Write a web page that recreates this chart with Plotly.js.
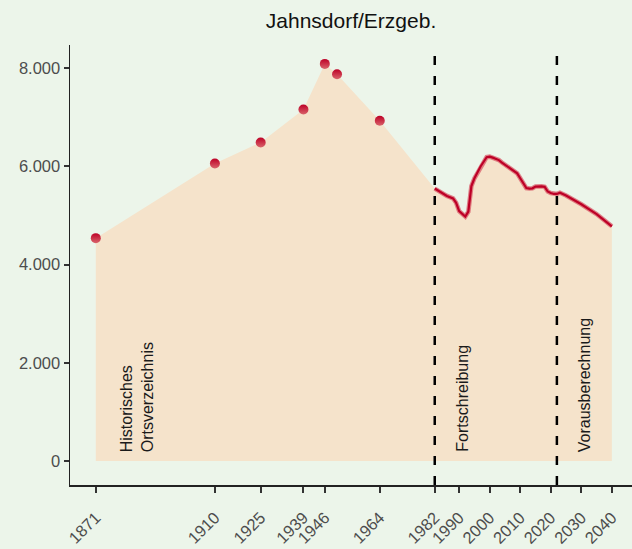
<!DOCTYPE html>
<html>
<head>
<meta charset="utf-8">
<script src="https://cdn.plot.ly/plotly-3.0.1.min.js"></script>
<style>
html,body{margin:0;padding:0;background:#ecf5ea;}
#chart{width:632px;height:549px;}
</style>
</head>
<body>
<div id="chart"></div>
<script>
// Historisches Ortsverzeichnis (points)
const histYears = [1871, 1910, 1925, 1939, 1946, 1950, 1964];
const histValues = [4540, 6060, 6490, 7160, 8090, 7880, 6930];

// Fortschreibung (line)
const fortYears = [1982, 1984, 1986, 1988, 1989, 1990, 1991, 1992, 1993, 1994, 1995, 1997, 1999, 2000, 2001, 2003, 2004, 2006, 2009, 2010, 2011, 2012, 2013, 2014, 2015, 2016, 2017, 2018, 2019, 2020, 2021, 2022];
const fortValues = [5550, 5470, 5400, 5350, 5260, 5090, 5030, 4980, 5080, 5600, 5760, 6000, 6190, 6200, 6180, 6130, 6080, 5990, 5860, 5760, 5650, 5560, 5550, 5555, 5590, 5600, 5595, 5585, 5490, 5460, 5440, 5440];

// Vorausberechnung (line)
const vorYears = [2022, 2023, 2025, 2030, 2035, 2040];
const vorValues = [5440, 5465, 5410, 5230, 5030, 4780];

// period boundaries and labels
const breakYears = [1982, 2022];
const tickYears = [1871, 1910, 1925, 1939, 1946, 1964, 1982, 1990, 2000, 2010, 2020, 2030, 2040];
const yTicks = [0, 2000, 4000, 6000, 8000];
const periodLabels = ["Historisches<br>Ortsverzeichnis", "Fortschreibung", "Vorausberechnung"];
const periodLabelYears = [1884.6, 1991, 2031.3];
const titleText = "Jahnsdorf/Erzgeb.";

const allYears = histYears.concat(fortYears, vorYears.slice(1));
const allValues = histValues.concat(fortValues, vorValues.slice(1));
const lineYears = fortYears.concat(vorYears.slice(1));
const lineValues = fortValues.concat(vorValues.slice(1));

const red = "#bd0026";
const FONT = "Liberation Sans, Arial, sans-serif";

const traces = [
  {x: allYears, y: allValues, type: "scatter", mode: "lines", fill: "tozeroy",
   fillcolor: "#f5e3cb", line: {width: 0, color: "rgba(0,0,0,0)"}, hoverinfo: "skip"},
  {x: lineYears, y: lineValues, type: "scatter", mode: "lines",
   line: {color: "rgba(215,80,95,0.7)", width: 4.5}, hoverinfo: "skip"},
  {x: lineYears, y: lineValues, type: "scatter", mode: "lines",
   line: {color: red, width: 2.2}, hoverinfo: "skip"},
  {x: histYears, y: histValues, type: "scatter", mode: "markers",
   marker: {color: red, size: 10, line: {width: 0},
            gradient: {type: "vertical", color: "#d9646b"}}, hoverinfo: "skip"}
];

const shapes = breakYears.map(yr => ({
  type: "line", xref: "x", yref: "paper", x0: yr, x1: yr, y0: 0, y1: 1,
  line: {color: "#000", width: 2.5, dash: "9px,11px"}
}));

const annotations = periodLabels.map((t, i) => ({
  x: periodLabelYears[i], y: 0, xref: "x", yref: "y",
  text: t, textangle: -90, showarrow: false, align: "left",
  xanchor: "center", yanchor: "bottom", yshift: 7,
  font: {family: FONT, size: 16, color: "#1a1a1a"}
}));

const layout = {
  width: 632, height: 549,
  paper_bgcolor: "#ecf5ea", plot_bgcolor: "#ecf5ea",
  margin: {l: 70, r: 0, t: 45, b: 64},
  showlegend: false,
  separators: ",.",
  font: {family: FONT, size: 16.5, color: "#4d4d4d"},
  title: {text: titleText, x: 0.5, xref: "paper", xanchor: "center", y: 0.963, yref: "container", yanchor: "middle",
          font: {family: FONT, size: 21, color: "#111"}},
  xaxis: {range: [1862.55, 2046.6], tickvals: tickYears, ticktext: tickYears.map(String),
          tickangle: -45, showgrid: false, zeroline: false, showline: true, linecolor: "#222", linewidth: 1.5,
          ticks: "outside", ticklen: 6, tickwidth: 2, tickcolor: "#333", ticklabelstandoff: 9,
          tickfont: {family: FONT, size: 16.5, color: "#4d4d4d"}},
  yaxis: {range: [-490, 8475], tickvals: yTicks, tickformat: ",.0f",
          showgrid: false, zeroline: false, showline: true, linecolor: "#222", linewidth: 1.5,
          ticks: "outside", ticklen: 5, tickwidth: 2, tickcolor: "#333",
          tickfont: {family: FONT, size: 16.5, color: "#4d4d4d"}},
  shapes: shapes,
  annotations: annotations
};

Plotly.newPlot("chart", traces, layout, {displayModeBar: false, staticPlot: true});
</script>
</body>
</html>
